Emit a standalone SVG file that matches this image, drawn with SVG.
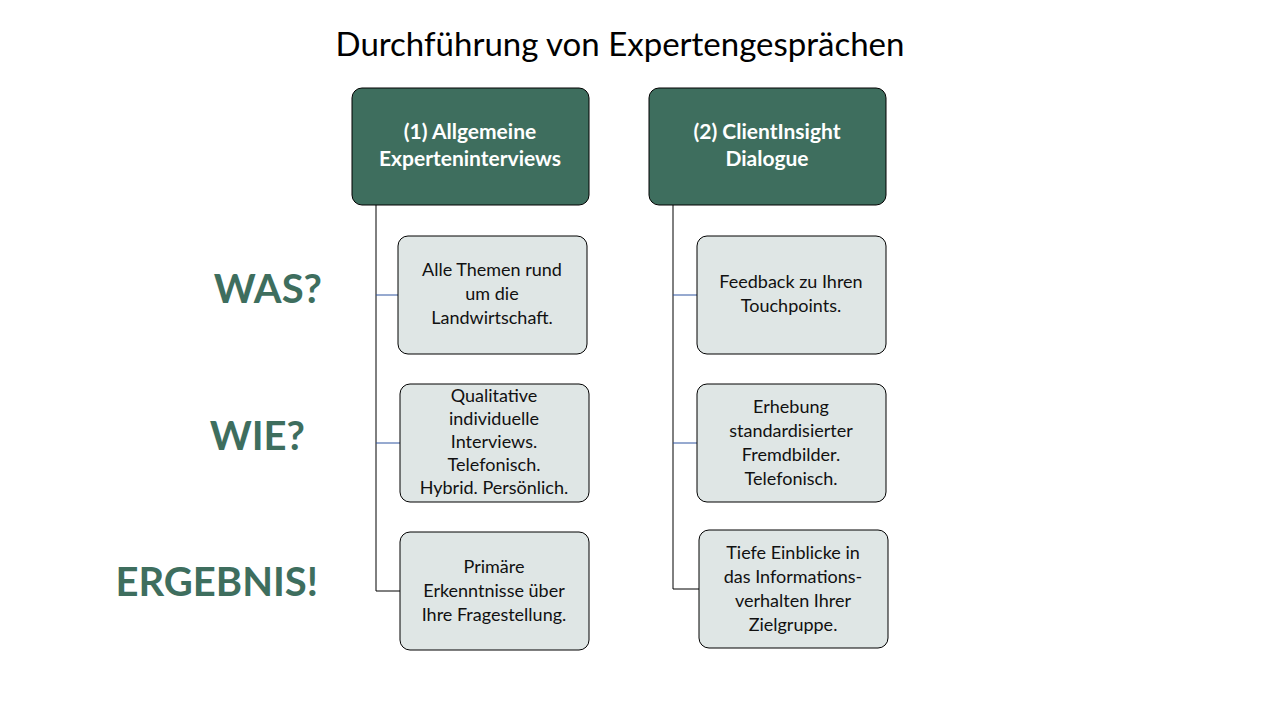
<svg xmlns="http://www.w3.org/2000/svg" width="1280" height="720" viewBox="0 0 1280 720">
<style>
.h{fill:#3E6E5E;stroke:#000;stroke-width:1}
.c{fill:#DFE6E5;stroke:#000;stroke-width:1}
.ht{font-family:Lato,"Liberation Sans",sans-serif;font-weight:bold;font-size:21px;fill:#fff;text-anchor:middle}
.ct{font-family:Lato,"Liberation Sans",sans-serif;font-size:18px;fill:#111;text-anchor:middle}
.q{font-family:Lato,"Liberation Sans",sans-serif;font-weight:bold;font-size:40px;fill:#3E6E5E;text-anchor:end}
.l{stroke:#000;stroke-width:1;fill:none}
.b{stroke:#2F55A0;stroke-width:1;fill:none}
</style>
<rect width="1280" height="720" fill="#fff"/>
<text x="620" y="56" font-family="Lato,'Liberation Sans',sans-serif" font-size="33" text-anchor="middle" fill="#000">Durchführung von Expertengesprächen</text>
<text class="q" x="322" y="303">WAS?</text>
<text class="q" x="305" y="450">WIE?</text>
<text class="q" x="318" y="596">ERGEBNIS!</text>
<g id="connectors">
<path class="l" d="M376 205V591H400"/>
<path class="b" d="M376 295H398M376 443H400"/>
<path class="l" d="M673 205V589H699"/>
<path class="b" d="M673 295H697M673 443H697"/>
</g>
<g id="h1"><rect class="h" x="352" y="88" width="237" height="117" rx="10"/>
<text class="ht" x="470" y="139">(1) Allgemeine</text><text class="ht" x="470" y="166">Experteninterviews</text></g>
<g id="h2"><rect class="h" x="649" y="88" width="237" height="117" rx="10"/>
<text class="ht" x="767" y="139">(2) ClientInsight</text><text class="ht" x="767" y="166">Dialogue</text></g>
<g id="l1"><rect class="c" x="398" y="236" width="189" height="118" rx="10"/>
<text class="ct" x="492" y="276">Alle Themen rund</text><text class="ct" x="492" y="300">um die</text><text class="ct" x="492" y="324">Landwirtschaft.</text></g>
<g id="l2"><rect class="c" x="400" y="384" width="189" height="118" rx="10"/>
<text class="ct" x="494" y="402">Qualitative</text><text class="ct" x="494" y="425">individuelle</text><text class="ct" x="494" y="448">Interviews.</text><text class="ct" x="494" y="471">Telefonisch.</text><text class="ct" x="494" y="494">Hybrid. Persönlich.</text></g>
<g id="l3"><rect class="c" x="400" y="532" width="189" height="118" rx="10"/>
<text class="ct" x="494" y="573">Primäre</text><text class="ct" x="494" y="597">Erkenntnisse über</text><text class="ct" x="494" y="621">Ihre Fragestellung.</text></g>
<g id="r1"><rect class="c" x="697" y="236" width="189" height="118" rx="10"/>
<text class="ct" x="791" y="288">Feedback zu Ihren</text><text class="ct" x="791" y="312">Touchpoints.</text></g>
<g id="r2"><rect class="c" x="697" y="384" width="189" height="118" rx="10"/>
<text class="ct" x="791" y="413">Erhebung</text><text class="ct" x="791" y="437">standardisierter</text><text class="ct" x="791" y="461">Fremdbilder.</text><text class="ct" x="791" y="485">Telefonisch.</text></g>
<g id="r3"><rect class="c" x="699" y="530" width="189" height="118" rx="10"/>
<text class="ct" x="793" y="559">Tiefe Einblicke in</text><text class="ct" x="793" y="583">das Informations-</text><text class="ct" x="793" y="607">verhalten Ihrer</text><text class="ct" x="793" y="631">Zielgruppe.</text></g>
</svg>
